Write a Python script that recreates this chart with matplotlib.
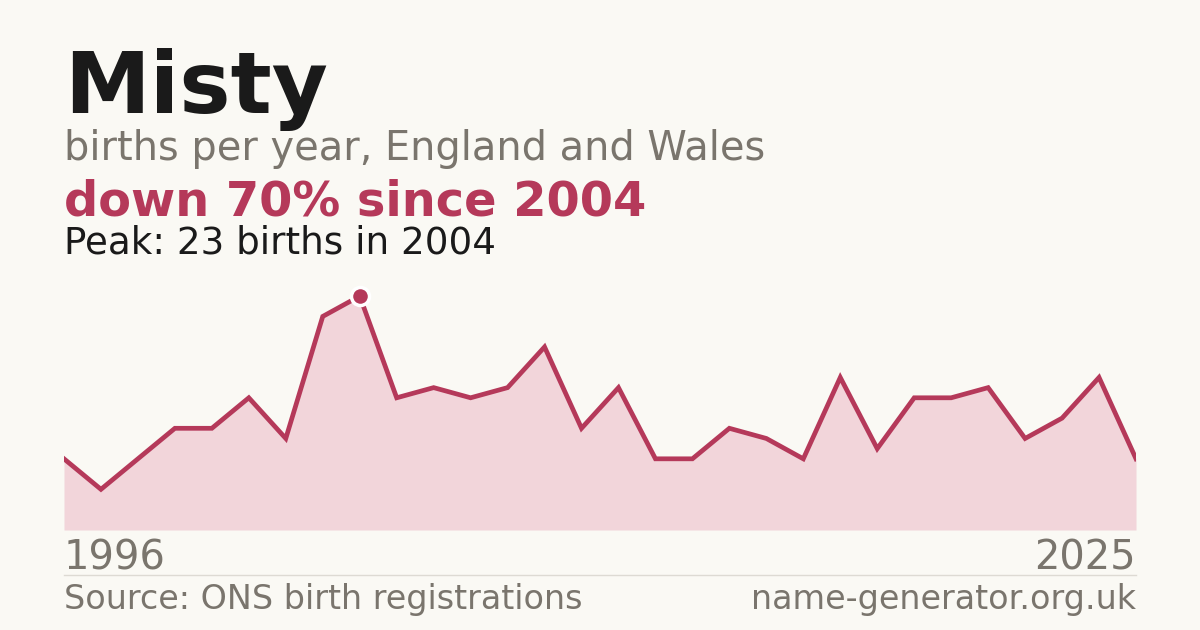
import numpy as np
import matplotlib
matplotlib.use("Agg")
import matplotlib.pyplot as plt

# ============================================================
# DATA
# ============================================================

years = list(range(1996, 2026))
births = [7, 4, 7, 10, 10, 13, 9, 21, 23, 13,
          14, 13, 14, 18, 10, 14, 7, 7, 10, 9,
          7, 15, 8, 13, 13, 14, 9, 11, 15, 7]

name = "Misty"
subtitle = "births per year, England and Wales"
headline = "down 70% since 2004"
peak_text = "Peak: 23 births in 2004"
source = "Source: ONS birth registrations"
site = "name-generator.org.uk"

# ============================================================
# STYLE
# ============================================================

BG = "#faf9f4"
RED = "#b5395a"
FILL = "#f2d5da"
GREY = "#7a756d"
DARK = "#1a1a1a"

W, H = 1200, 630
DPI = 100

fig = plt.figure(figsize=(W / DPI, H / DPI), dpi=DPI, facecolor=BG)


def fy(px):
    return 1 - px / H


# ============================================================
# CHART
# ============================================================

left, right = 64, 1136
top, bottom = 280, 530
ax = fig.add_axes([left / W, fy(bottom), (right - left) / W, (bottom - top) / H])
ax.set_facecolor("none")

x = np.array(years)
y = np.array(births)

ax.fill_between(x, 0, y, color=FILL, linewidth=0, zorder=1)
ax.plot(x, y, color=RED, linewidth=3.4, solid_joinstyle="miter", zorder=2)

ipk = int(np.argmax(y))
ax.plot(x[ipk], y[ipk], "o", color=RED, markersize=13,
        markeredgecolor="white", markeredgewidth=2.5, zorder=3)

ax.set_xlim(years[0], years[-1])
ax.set_ylim(0, (bottom - top) / 10.17)
ax.axis("off")

# ============================================================
# TEXT
# ============================================================

fig.text(left / W, fy(113), name, fontsize=62, fontweight="bold",
         color=DARK, va="baseline", ha="left")
fig.text(left / W, fy(160), subtitle, fontsize=28.75,
         color=GREY, va="baseline", ha="left")
fig.text(left / W, fy(215), headline, fontsize=34.5, fontweight="bold",
         color=RED, va="baseline", ha="left")
fig.text(left / W, fy(254), peak_text, fontsize=26.8,
         color=DARK, va="baseline", ha="left")

fig.text(left / W, fy(569), str(years[0]), fontsize=28.8,
         color=GREY, va="baseline", ha="left")
fig.text(right / W, fy(569), str(years[-1]), fontsize=28.8,
         color=GREY, va="baseline", ha="right")

fig.add_artist(plt.Line2D([left / W, right / W], [fy(575), fy(575)],
                          color="#dddad3", linewidth=1))

fig.text(left / W, fy(609), source, fontsize=24,
         color=GREY, va="baseline", ha="left")
fig.text(right / W, fy(609), site, fontsize=24,
         color=GREY, va="baseline", ha="right")

fig.savefig("out.png", dpi=DPI, facecolor=BG)
